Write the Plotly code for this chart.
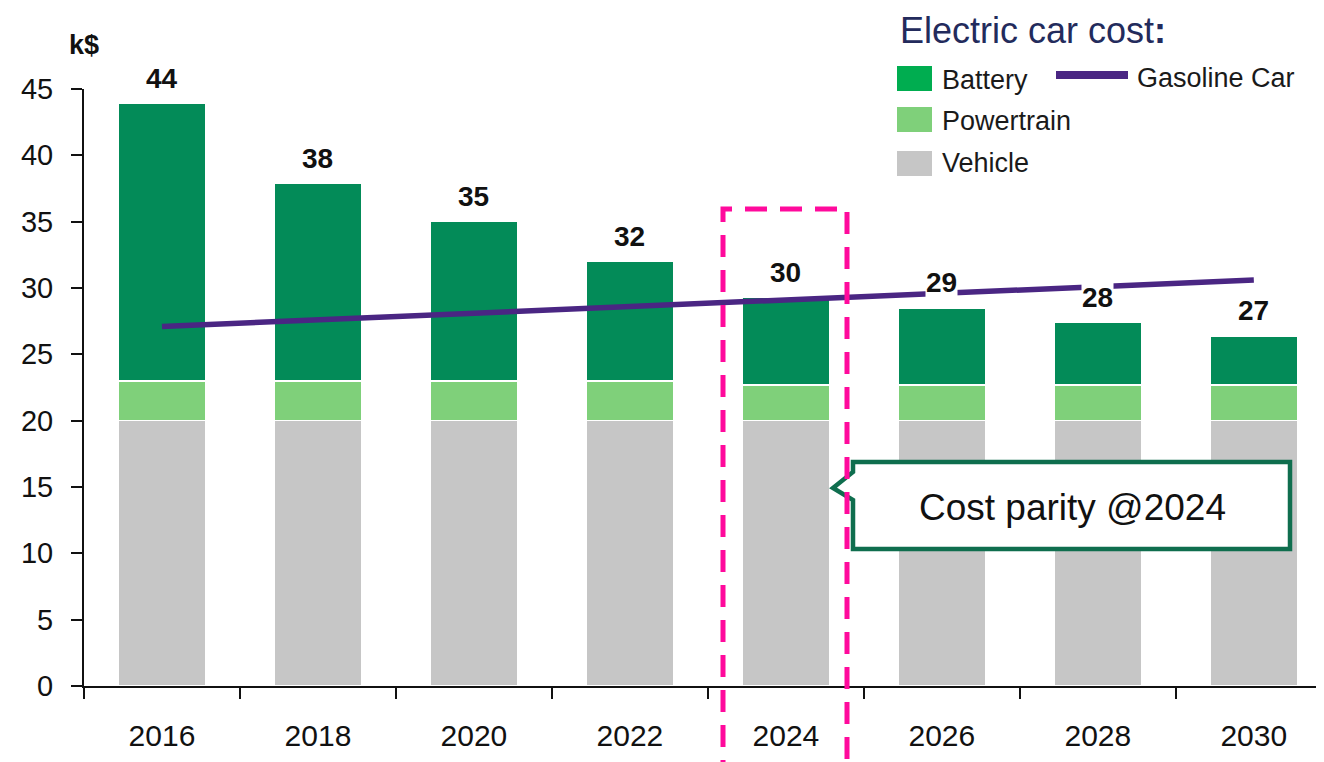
import plotly.graph_objects as go

years = ["2016", "2018", "2020", "2022", "2024", "2026", "2028", "2030"]
vehicle = [20, 20, 20, 20, 20, 20, 20, 20]
powertrain = [3.0, 3.0, 3.0, 3.0, 2.7, 2.7, 2.7, 2.7]
battery = [20.9, 14.9, 12.0, 9.0, 6.6, 5.8, 4.7, 3.7]
gasoline = [27.1, 27.6, 28.0, 28.6, 29.1, 29.6, 30.1, 30.6]
total_labels = ["44", "38", "35", "32", "30", "29", "28", "27"]
y_ticks = [0, 5, 10, 15, 20, 25, 30, 35, 40, 45]

FONT = "Liberation Sans, Arial, sans-serif"
C_BATT = "#038B58"
C_BATT_LEG = "#00AD50"
C_PT = "#7FD07A"
C_VEH = "#C6C6C6"
C_GAS = "#4A2683"
C_PINK = "#FF0A9C"
C_CALLOUT = "#0F6E4E"

# page offset of the figure (browser body margin)
OFF = 8
W, H = 1324 - OFF, 762 - OFF
# plot area in page pixels (for decoration placement)
L, R, T, B = 84, 1324, 89, 686


def px(x):
    return (x - L) / (R - L)


def py(y):
    return (B - y) / (B - T)


fig = go.Figure()
fig.add_trace(go.Bar(x=years, y=vehicle, name="Vehicle", marker=dict(color=C_VEH, line=dict(color="white", width=1.5)), width=0.56))
fig.add_trace(go.Bar(x=years, y=powertrain, name="Powertrain", marker=dict(color=C_PT, line=dict(color="white", width=1.5)), width=0.56))
fig.add_trace(go.Bar(x=years, y=battery, name="Battery", marker=dict(color=C_BATT, line=dict(color="white", width=1.5)), width=0.56))
fig.add_trace(go.Scatter(x=years, y=gasoline, name="Gasoline Car", mode="lines", line=dict(color=C_GAS, width=5.5)))

totals = [v + p + b for v, p, b in zip(vehicle, powertrain, battery)]

annotations = []
for i, (tot, lab) in enumerate(zip(totals, total_labels)):
    annotations.append(dict(x=i, y=tot, xref="x", yref="y", text="<b>" + lab + "</b>", showarrow=False,
                            yshift=25, xanchor="center", yanchor="middle",
                            font=dict(family=FONT, size=28, color="#111"),
                            bgcolor="white", borderpad=0))

# unit label
annotations.append(dict(x=px(84), y=py(45), xref="paper", yref="paper", text="<b>k$</b>", showarrow=False,
                        xanchor="center", yanchor="middle", font=dict(family=FONT, size=27, color="#111")))
# legend title
annotations.append(dict(x=px(898), y=py(30), xref="paper", yref="paper", text="Electric car cost<b>:</b>", showarrow=False,
                        xanchor="left", yanchor="middle", font=dict(family=FONT, size=36, color="#232B5C")))
leg_items = [("Battery", C_BATT_LEG, 66, 91, 80), ("Powertrain", C_PT, 107, 132, 121), ("Vehicle", C_VEH, 151, 176, 163)]
shapes = []
for name, col, y0, y1, yc in leg_items:
    shapes.append(dict(type="rect", xref="paper", yref="paper", x0=px(897), x1=px(932), y0=py(y1), y1=py(y0),
                       fillcolor=col, line=dict(width=0)))
    annotations.append(dict(x=px(940), y=py(yc), xref="paper", yref="paper", text=name, showarrow=False,
                            xanchor="left", yanchor="middle", font=dict(family=FONT, size=27, color="#1a1a1a")))
shapes.append(dict(type="line", xref="paper", yref="paper", x0=px(1056), x1=px(1128), y0=py(75), y1=py(75),
                   line=dict(color=C_GAS, width=8)))
annotations.append(dict(x=px(1135), y=py(78), xref="paper", yref="paper", text="Gasoline Car", showarrow=False,
                        xanchor="left", yanchor="middle", font=dict(family=FONT, size=27, color="#1a1a1a")))

# callout box with pointer
path = "M {a},{b} L {c},{b} L {c},{d} L {a},{d} L {a},{e} L {f},{g} L {a},{h} Z".format(
    a=px(853), b=py(462), c=px(1290), d=py(549), e=py(500), f=px(833), g=py(488), h=py(472))
shapes.append(dict(type="path", xref="paper", yref="paper", path=path, fillcolor="white",
                   line=dict(color=C_CALLOUT, width=4.5)))
annotations.append(dict(x=px(1072), y=py(507), xref="paper", yref="paper", text="Cost parity @2024", showarrow=False,
                        xanchor="center", yanchor="middle", font=dict(family=FONT, size=37, color="#111")))

# pink dashed highlight
shapes.append(dict(type="rect", xref="paper", yref="paper", x0=px(723), x1=px(847), y0=py(775), y1=py(209),
                   fillcolor="rgba(0,0,0,0)", line=dict(color=C_PINK, width=5, dash="22px,13px")))

fig.update_layout(
    width=W, height=H,
    margin=dict(l=L - OFF, r=W - (R - OFF), t=T - OFF, b=H - (B - OFF), pad=0),
    barmode="stack", bargap=0.44,
    plot_bgcolor="white", paper_bgcolor="white",
    showlegend=False,
    font=dict(family=FONT, size=26, color="#111"),
    annotations=annotations, shapes=shapes,
    xaxis=dict(type="category", range=[-0.5, 7.45], showline=True, linecolor="#111", linewidth=2,
               ticks="outside", tickson="boundaries", ticklen=11, tickwidth=2, tickcolor="#111",
               ticklabelstandoff=22, tickfont=dict(family=FONT, size=30, color="#111"), showgrid=False, zeroline=False),
    yaxis=dict(range=[0, 45], tickvals=y_ticks, showline=True, linecolor="#111", linewidth=2,
               ticks="outside", ticklen=11, tickwidth=2, tickcolor="#111", ticklabelstandoff=12,
               tickfont=dict(family=FONT, size=29, color="#111"), showgrid=False, zeroline=False),
)

fig.write_html("out.html")
